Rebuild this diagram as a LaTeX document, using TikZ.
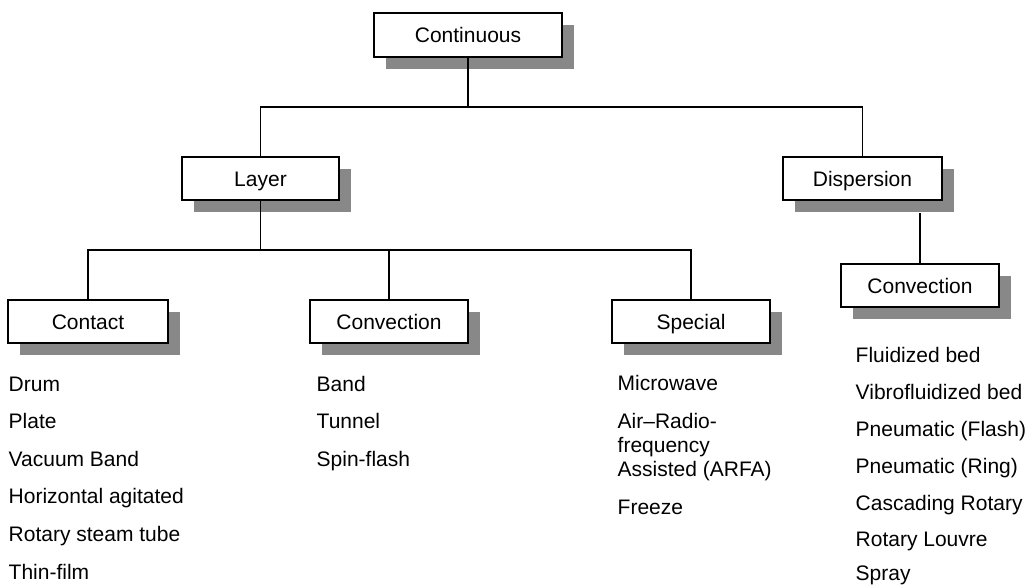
\documentclass[tikz,border=0pt]{standalone}
\usepackage{fontspec}
\setmainfont{Liberation Sans}
\usetikzlibrary{shadows}
\definecolor{shadowgray}{HTML}{888888}
\begin{document}
\begin{tikzpicture}[x=1pt,y=-1pt,
  box/.style={draw=black, line width=1.8pt, fill=white, minimum width=158pt, minimum height=43pt,
    inner sep=0pt, text height=15pt, text depth=0pt,
    drop shadow={shadow xshift=12pt, shadow yshift=-12pt, fill=shadowgray, opacity=1, draw=none}},
  item/.style={anchor=base west, inner sep=0pt},
  conn/.style={line width=1.3pt}
]
\useasboundingbox (0,0) rectangle (1028,586);
\fontsize{21}{24}\selectfont

% boxes
\node[box, minimum width=188pt, minimum height=44pt] (cont) at (468,35) {Continuous};
\node[box, minimum width=157pt] (layer) at (260.5,178.5) {Layer};
\node[box, minimum width=159pt] (disp) at (862.5,178.5) {Dispersion};
\node[box, minimum width=160pt] (contact) at (88,321.5) {Contact};
\node[box] (conv1) at (389,321.5) {Convection};
\node[box] (special) at (691,321.5) {Special};
\node[box] (conv2) at (920,285.5) {Convection};

% connectors
\coordinate (j1) at (468,107);
\coordinate (j2) at (260.5,250);
\coordinate (j3) at (920,213);
\draw[conn] (cont.south) -- (j1);
\draw[conn] (layer.north) |- (j1) -| (disp.north);
\draw[conn] (layer.south) -- (j2);
\draw[conn] (contact.north) |- (j2) -| (special.north);
\draw[conn] (conv1.north) -- (conv1.north |- j2);
\draw[conn] (j3) -- (conv2.north);

% Contact list
\node[item] (c1) at (8.5,391) {Drum};
\node[item] (c2) at (8.5,428.6) {Plate};
\node[item] (c3) at (8.5,466.2) {Vacuum Band};
\node[item] (c4) at (8.5,503.8) {Horizontal agitated};
\node[item] (c5) at (8.5,541.4) {Rotary steam tube};
\node[item] (c6) at (8.5,579) {Thin-film};

% Convection (layer) list
\node[item] (v1) at (316.5,391) {Band};
\node[item] (v2) at (316.5,428.6) {Tunnel};
\node[item] (v3) at (316.5,466.2) {Spin-flash};

% Special list
\node[item] (s1) at (617.5,390) {Microwave};
\node[item] (s2) at (617.5,428) {Air–Radio-};
\node[item] (s3) at (617.5,452) {frequency};
\node[item] (s4) at (617.5,476) {Assisted (ARFA)};
\node[item] (s5) at (617.5,514) {Freeze};

% Convection (dispersion) list
\node[item] (d1) at (855.5,362) {Fluidized bed};
\node[item] (d2) at (855.5,399) {Vibrofluidized bed};
\node[item] (d3) at (855.5,436) {Pneumatic (Flash)};
\node[item] (d4) at (855.5,473) {Pneumatic (Ring)};
\node[item] (d5) at (855.5,510) {Cascading Rotary};
\node[item] (d6) at (855.5,546.5) {Rotary Louvre};
\node[item] (d7) at (855.5,580.5) {Spray};
\end{tikzpicture}
\end{document}
